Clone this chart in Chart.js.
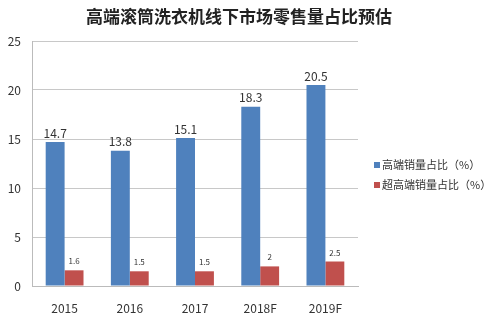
<!DOCTYPE html>
<html>
<head>
<meta charset="utf-8">
<script src="https://cdn.jsdelivr.net/npm/chart.js@4.4.1/dist/chart.umd.min.js"></script>
<style>
  html, body { margin: 0; padding: 0; background: #fff; }
  #wrap { width: 500px; height: 324px; position: relative; }
</style>
</head>
<body>
<div id="wrap"><canvas id="c"></canvas></div>
<script>
const years = ['2015', '2016', '2017', '2018F', '2019F'];
const highEnd = [14.7, 13.8, 15.1, 18.3, 20.5];
const ultraHighEnd = [1.6, 1.5, 1.5, 2, 2.5];
const seriesNames = ['高端销量占比（%）', '超高端销量占比（%）'];
const titleText = '高端滚筒洗衣机线下市场零售量占比预估';

const FONT = '"Noto Sans CJK SC", "Noto Sans", sans-serif';

// 数值标签 + 标题 + 图例
const decor = {
    id: 'decor',
    afterDatasetsDraw(chart) {
        const ctx = chart.ctx;
        ctx.save();
        ctx.fillStyle = '#333';
        ctx.textAlign = 'center';
        ctx.textBaseline = 'bottom';
        chart.data.datasets.forEach((ds, i) => {
            const meta = chart.getDatasetMeta(i);
            ctx.font = (i === 0 ? '12px ' : '8px ') + FONT;
            meta.data.forEach((bar, j) => {
                ctx.fillText(String(ds.data[j]), bar.x, bar.y - (i === 0 ? 3 : 5));
            });
        });

        ctx.font = 'bold 17px ' + FONT;
        ctx.fillStyle = '#222';
        ctx.textBaseline = 'middle';
        ctx.fillText(titleText, 239, 17);

        ctx.textAlign = 'left';
        ctx.font = '11px ' + FONT;
        chart.data.datasets.forEach((ds, i) => {
            const y = 165 + i * 20;
            ctx.fillStyle = ds.backgroundColor;
            ctx.fillRect(374, y - 3, 6, 6);
            ctx.fillStyle = '#333';
            ctx.fillText(ds.label, 382, y);
        });
        ctx.restore();
    }
};

new Chart(document.getElementById('c'), {
    type: 'bar',
    data: {
        labels: years,
        datasets: [
            { label: seriesNames[0], data: highEnd, backgroundColor: '#4F81BD' },
            { label: seriesNames[1], data: ultraHighEnd, backgroundColor: '#C0504D' }
        ]
    },
    options: {
        responsive: true,
        maintainAspectRatio: false,
        animation: false,
        layout: { padding: { top: 41, right: 142, left: 0, bottom: 0 } },
        datasets: { bar: { categoryPercentage: 0.58, barPercentage: 1 } },
        scales: {
            x: {
                grid: { display: false },
                border: { color: '#bbb' },
                ticks: { color: '#333', font: { size: 12, family: FONT }, padding: 7 },
                afterFit(s) { s.height = 38; }
            },
            y: {
                min: 0, max: 25,
                ticks: { stepSize: 5, color: '#333', font: { size: 12, family: FONT }, padding: 11 },
                grid: { color: '#c8c8c8', drawTicks: false },
                border: { color: '#bbb' },
                afterFit(s) { s.width = 32; }
            }
        },
        plugins: {
            legend: { display: false },
            tooltip: { enabled: false }
        }
    },
    plugins: [decor]
});
</script>
</body>
</html>
